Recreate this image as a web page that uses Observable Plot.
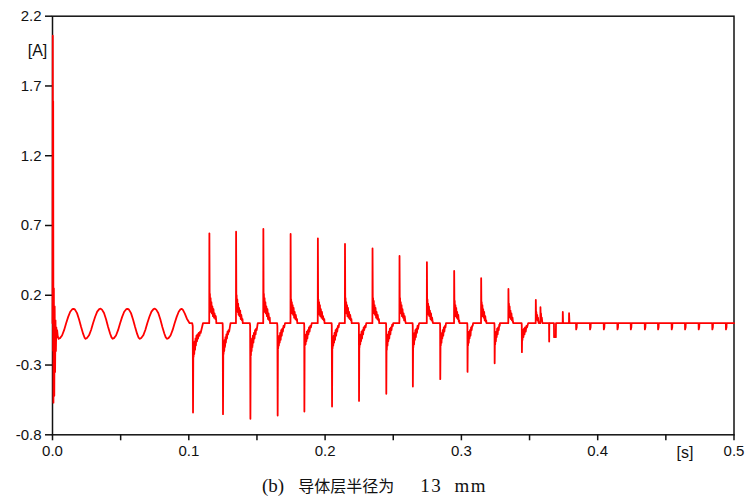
<!DOCTYPE html>
<html><head><meta charset="utf-8">
<script src="https://cdn.jsdelivr.net/npm/d3@7"></script>
<script src="https://cdn.jsdelivr.net/npm/@observablehq/plot@0.6"></script>
<style>
body{margin:0;background:#fff;}
#chart svg{display:block}
#cap{height:31px;line-height:31px;width:746px;box-sizing:border-box;padding-left:262px;white-space:pre;color:#111;}
#cap .lat{font-family:"Liberation Serif",serif;font-size:19px;}
#cap .cjk{font-family:"Noto Sans CJK SC",sans-serif;font-size:16px;margin-left:14px;margin-right:26px;}
#cap .val{word-spacing:6px;letter-spacing:1.5px;}
</style></head><body>
<div id="chart"></div>
<div id="cap"><span class="lat" id="capA"></span><span class="cjk" id="capB"></span><span class="lat val" id="capC"></span></div>
<script>
// ---- axis ticks / labels ----
const yTicks = [-0.8, -0.3, 0.2, 0.7, 1.2, 1.7, 2.2];
const xTicks = [0, 0.1, 0.2, 0.3, 0.4, 0.5];
const xMinorTicks = [0.05, 0.15, 0.25, 0.35, 0.45];
const yUnit = "[A]";
const xUnit = "[s]";
const captionParts = ["(b)", "导体层半径为", "13 mm"];

// ---- current trace [time s, current A] ----
const transient = [[0,0],[0.0002,2.06],[0.0004,-0.2],[0.0005,1.59],[0.0007,-0.57],[0.0010,0.25],[0.0013,-0.52],[0.0016,0.12],[0.0019,-0.35],[0.0022,0.02],[0.0025,-0.2],[0.0028,-0.03],[0.0031,-0.1],[0.0034,-0.05],[0.0038,-0.09],[0.0042,-0.105]];

const preFault = [
[0.0045,-0.112],[0.0055,-0.107],[0.007,-0.088],[0.0085,-0.05],[0.010,0.0],[0.0115,0.045],[0.013,0.082],[0.0145,0.100],[0.0155,0.103],[0.0165,0.097],[0.018,0.072],[0.0195,0.027],[0.021,-0.028],[0.0225,-0.077],[0.0235,-0.103],[0.0243,-0.112],
[0.0253,-0.106],[0.0268,-0.087],[0.0283,-0.049],[0.0298,0.001],[0.0313,0.046],[0.0328,0.083],[0.0343,0.101],[0.0353,0.104],[0.0363,0.097],[0.0378,0.073],[0.0393,0.028],[0.0408,-0.027],[0.0423,-0.076],[0.0433,-0.102],[0.0441,-0.112],
[0.0451,-0.107],[0.0466,-0.088],[0.0481,-0.05],[0.0496,0.0],[0.0511,0.045],[0.0526,0.082],[0.0541,0.100],[0.0551,0.103],[0.0561,0.097],[0.0576,0.072],[0.0591,0.027],[0.0606,-0.028],[0.0621,-0.077],[0.0631,-0.103],[0.0641,-0.112],
[0.0651,-0.106],[0.0666,-0.087],[0.0681,-0.049],[0.0696,0.001],[0.0711,0.046],[0.0726,0.083],[0.0741,0.101],[0.0751,0.104],[0.0761,0.097],[0.0776,0.073],[0.0791,0.028],[0.0806,-0.027],[0.0821,-0.076],[0.0831,-0.102],[0.0841,-0.112],
[0.0851,-0.107],[0.0866,-0.088],[0.0881,-0.05],[0.0896,0.0],[0.0911,0.045],[0.0926,0.082],[0.0939,0.100],[0.0947,0.103],[0.0956,0.097],[0.0971,0.068],[0.0986,0.032],[0.1006,0],[0.1025,0]
];

const cycle01 = [[0.1029,-0.02],[0.1031,-0.640],[0.1033,-0.21],[0.1035,-0.24],[0.1037,-0.15],[0.1040,-0.22],[0.1043,-0.13],[0.1046,-0.19],[0.1049,-0.11],[0.1052,-0.16],[0.1056,-0.09],[0.1060,-0.13],[0.1064,-0.08],[0.1068,-0.11],[0.1073,-0.07],[0.1078,-0.09],[0.1083,-0.06],[0.1087,-0.07],[0.1104,0],[0.1150,0],
[0.1151,0.644],[0.1153,0.12],[0.1155,0.21],[0.1157,0.10],[0.1160,0.18],[0.1163,0.08],[0.1166,0.15],[0.1169,0.07],[0.1173,0.12],[0.1177,0.05],[0.1181,0.10],[0.1185,0.04],[0.1189,0.07],[0.1194,0.03],[0.1198,0.05],[0.1201,0.02],[0.1202,0],[0.1248,0],[0.1249,-0.02]];

const cycle02 = [[0.1251,-0.652],[0.1253,-0.19],[0.1255,-0.22],[0.1257,-0.14],[0.1260,-0.20],[0.1263,-0.12],[0.1266,-0.17],[0.1269,-0.10],[0.1272,-0.14],[0.1276,-0.08],[0.1280,-0.11],[0.1284,-0.06],[0.1288,-0.08],[0.1292,-0.05],[0.1296,-0.06],[0.1306,0],[0.1346,0],
[0.1347,0.656],[0.1349,0.11],[0.1351,0.20],[0.1353,0.09],[0.1356,0.17],[0.1359,0.08],[0.1362,0.14],[0.1365,0.06],[0.1369,0.11],[0.1373,0.05],[0.1377,0.09],[0.1381,0.03],[0.1385,0.06],[0.1390,0.02],[0.1394,0.03],[0.1396,0],[0.1448,0],[0.1450,-0.02]];

const cycle03 = [[0.1452,-0.685],[0.1454,-0.18],[0.1456,-0.23],[0.1458,-0.13],[0.1461,-0.20],[0.1464,-0.11],[0.1467,-0.17],[0.1470,-0.09],[0.1474,-0.14],[0.1478,-0.07],[0.1482,-0.11],[0.1486,-0.05],[0.1490,-0.08],[0.1494,-0.04],[0.1498,-0.05],[0.1506,0],[0.1546,0],
[0.1547,0.675],[0.1549,0.12],[0.1551,0.21],[0.1553,0.10],[0.1556,0.18],[0.1559,0.08],[0.1562,0.15],[0.1565,0.07],[0.1569,0.12],[0.1573,0.05],[0.1577,0.10],[0.1581,0.03],[0.1585,0.07],[0.1590,0.02],[0.1594,0.04],[0.1596,0],[0.1648,0],[0.1650,-0.02]];

const cycle04 = [[0.1652,-0.662],[0.1654,-0.13],[0.1656,-0.18],[0.1658,-0.10],[0.1661,-0.16],[0.1664,-0.09],[0.1667,-0.14],[0.1670,-0.07],[0.1674,-0.12],[0.1678,-0.05],[0.1682,-0.09],[0.1686,-0.04],[0.1690,-0.06],[0.1695,-0.02],[0.1700,-0.03],[0.1706,0],[0.1746,0],
[0.1747,0.639],[0.1749,0.10],[0.1751,0.17],[0.1753,0.08],[0.1756,0.15],[0.1759,0.07],[0.1762,0.13],[0.1765,0.06],[0.1769,0.11],[0.1773,0.04],[0.1777,0.08],[0.1781,0.03],[0.1785,0.06],[0.1790,0.02],[0.1794,0.03],[0.1796,0],[0.1846,0],[0.1847,-0.02]];

const cycle05 = [[0.1848,-0.633],[0.1850,-0.12],[0.1852,-0.16],[0.1854,-0.09],[0.1857,-0.15],[0.1860,-0.08],[0.1863,-0.13],[0.1866,-0.06],[0.1870,-0.11],[0.1874,-0.05],[0.1878,-0.08],[0.1882,-0.03],[0.1886,-0.06],[0.1891,-0.02],[0.1896,-0.03],[0.1902,0],[0.1946,0],
[0.1947,0.608],[0.1949,0.10],[0.1951,0.17],[0.1953,0.08],[0.1956,0.15],[0.1959,0.06],[0.1962,0.13],[0.1965,0.05],[0.1969,0.10],[0.1973,0.04],[0.1977,0.08],[0.1981,0.03],[0.1985,0.05],[0.1990,0.02],[0.1994,0.03],[0.1996,0],[0.2048,0],[0.2049,-0.02]];

const cycle06 = [[0.2051,-0.597],[0.2053,-0.13],[0.2055,-0.18],[0.2057,-0.10],[0.2060,-0.16],[0.2063,-0.09],[0.2066,-0.14],[0.2069,-0.07],[0.2073,-0.12],[0.2077,-0.05],[0.2081,-0.09],[0.2085,-0.04],[0.2089,-0.06],[0.2094,-0.02],[0.2099,-0.03],[0.2104,0],[0.2145,0],
[0.2146,0.568],[0.2148,0.11],[0.2150,0.18],[0.2152,0.08],[0.2155,0.15],[0.2158,0.07],[0.2161,0.13],[0.2164,0.05],[0.2168,0.11],[0.2172,0.04],[0.2176,0.08],[0.2180,0.03],[0.2184,0.06],[0.2189,0.02],[0.2193,0.03],[0.2195,0],[0.2247,0],[0.2248,-0.02]];

const cycle07 = [[0.2249,-0.557],[0.2251,-0.12],[0.2253,-0.17],[0.2255,-0.09],[0.2258,-0.15],[0.2261,-0.08],[0.2264,-0.13],[0.2267,-0.06],[0.2271,-0.11],[0.2275,-0.05],[0.2279,-0.08],[0.2283,-0.03],[0.2287,-0.05],[0.2292,-0.02],[0.2297,-0.03],[0.2302,0],[0.2347,0],
[0.2348,0.536],[0.2350,0.12],[0.2352,0.18],[0.2354,0.09],[0.2357,0.16],[0.2360,0.07],[0.2363,0.13],[0.2366,0.06],[0.2370,0.11],[0.2374,0.04],[0.2378,0.08],[0.2382,0.03],[0.2386,0.06],[0.2391,0.02],[0.2395,0.03],[0.2397,0],[0.2447,0],[0.2448,-0.02]];

const cycle08 = [[0.2449,-0.506],[0.2451,-0.13],[0.2453,-0.19],[0.2455,-0.10],[0.2458,-0.16],[0.2461,-0.08],[0.2464,-0.13],[0.2467,-0.06],[0.2471,-0.11],[0.2475,-0.04],[0.2479,-0.08],[0.2483,-0.03],[0.2487,-0.05],[0.2492,-0.01],[0.2497,-0.02],[0.2500,0],[0.2545,0],
[0.2546,0.482],[0.2548,0.11],[0.2550,0.18],[0.2552,0.08],[0.2555,0.15],[0.2558,0.07],[0.2561,0.13],[0.2564,0.05],[0.2568,0.10],[0.2572,0.04],[0.2576,0.07],[0.2580,0.02],[0.2584,0.05],[0.2589,0.01],[0.2592,0],[0.2642,0],[0.2643,-0.02]];

const cycle09 = [[0.2644,-0.454],[0.2646,-0.12],[0.2648,-0.17],[0.2650,-0.09],[0.2653,-0.15],[0.2656,-0.07],[0.2659,-0.12],[0.2662,-0.05],[0.2666,-0.10],[0.2670,-0.04],[0.2674,-0.07],[0.2678,-0.02],[0.2682,-0.04],[0.2687,-0.01],[0.2691,0],[0.2746,0],
[0.2747,0.437],[0.2749,0.10],[0.2751,0.17],[0.2753,0.07],[0.2756,0.14],[0.2759,0.06],[0.2762,0.12],[0.2765,0.05],[0.2769,0.09],[0.2773,0.03],[0.2777,0.07],[0.2781,0.02],[0.2785,0.04],[0.2789,0.01],[0.2791,0],[0.2843,0],[0.2844,-0.02]];

const cycle10 = [[0.2845,-0.401],[0.2847,-0.11],[0.2849,-0.16],[0.2851,-0.08],[0.2854,-0.14],[0.2857,-0.07],[0.2860,-0.11],[0.2863,-0.05],[0.2867,-0.09],[0.2871,-0.03],[0.2875,-0.06],[0.2879,-0.02],[0.2883,-0.03],[0.2887,0],[0.2946,0],
[0.2947,0.374],[0.2949,0.09],[0.2951,0.16],[0.2953,0.07],[0.2956,0.13],[0.2959,0.05],[0.2962,0.11],[0.2965,0.04],[0.2969,0.08],[0.2973,0.03],[0.2977,0.06],[0.2981,0.01],[0.2984,0.02],[0.2986,0],[0.3043,0],[0.3044,-0.02]];

const cycle11 = [[0.3045,-0.349],[0.3047,-0.10],[0.3049,-0.16],[0.3051,-0.08],[0.3054,-0.14],[0.3057,-0.06],[0.3060,-0.11],[0.3063,-0.05],[0.3067,-0.09],[0.3071,-0.03],[0.3075,-0.05],[0.3079,-0.02],[0.3083,-0.02],[0.3086,0],[0.3144,0],
[0.3145,0.322],[0.3147,0.08],[0.3149,0.15],[0.3151,0.06],[0.3154,0.13],[0.3157,0.05],[0.3160,0.10],[0.3163,0.04],[0.3167,0.08],[0.3171,0.02],[0.3175,0.05],[0.3179,0.01],[0.3182,0.02],[0.3184,0],[0.3242,0],[0.3243,-0.02]];

const cycle12 = [[0.3244,-0.288],[0.3246,-0.09],[0.3248,-0.15],[0.3250,-0.07],[0.3253,-0.13],[0.3256,-0.06],[0.3259,-0.10],[0.3262,-0.04],[0.3266,-0.08],[0.3270,-0.03],[0.3274,-0.05],[0.3278,-0.01],[0.3281,-0.02],[0.3283,0],[0.3344,0],
[0.3345,0.245],[0.3347,0.07],[0.3349,0.14],[0.3351,0.05],[0.3354,0.12],[0.3357,0.04],[0.3360,0.09],[0.3363,0.03],[0.3367,0.07],[0.3371,0.02],[0.3375,0.04],[0.3378,0.01],[0.3380,0],[0.3442,0],[0.3443,-0.02]];

const cycle13 = [[0.3444,-0.208],[0.3446,-0.07],[0.3448,-0.12],[0.3451,-0.05],[0.3455,-0.10],[0.3459,-0.04],[0.3463,-0.08],[0.3467,-0.03],[0.3472,-0.06],[0.3477,-0.02],[0.3482,-0.03],[0.3487,-0.01],[0.3490,0],[0.3545,0],
[0.3546,0.167],[0.3548,0.04],[0.3550,0.08],[0.3553,0.03],[0.3556,0.06],[0.3559,0.02],[0.3562,0.04],[0.3565,0.01],[0.3567,0],[0.3579,0],[0.3580,0.114],[0.3582,0.04],[0.3584,0.07],[0.3587,0.02],[0.3590,0.04],[0.3593,0.01],[0.3596,0],[0.3643,0]];

const lateSpikes = [[0.3644,-0.132],[0.3645,0],[0.3679,0],[0.3680,-0.10],[0.3693,-0.10],[0.3694,0],[0.3743,0],[0.3744,0.08],[0.3746,0],[0.3789,0],[0.3790,0.071],[0.3793,0],[0.3841,0]];

const tailTicks = [
[0.3842,-0.045],[0.3846,-0.03],[0.3847,0],[0.3943,0],
[0.3944,-0.045],[0.3948,-0.03],[0.3949,0],[0.4044,0],
[0.4045,-0.045],[0.4049,-0.03],[0.4050,0],[0.4144,0],
[0.4145,-0.045],[0.4149,-0.03],[0.4150,0],[0.4242,0],
[0.4243,-0.045],[0.4247,-0.03],[0.4248,0],[0.4345,0],
[0.4346,-0.045],[0.4350,-0.03],[0.4351,0],[0.4442,0],
[0.4443,-0.045],[0.4447,-0.03],[0.4448,0],[0.4542,0],
[0.4543,-0.045],[0.4547,-0.03],[0.4548,0],[0.4640,0],
[0.4641,-0.045],[0.4645,-0.03],[0.4646,0],[0.4740,0],
[0.4741,-0.045],[0.4745,-0.03],[0.4746,0],[0.4840,0],
[0.4841,-0.045],[0.4845,-0.03],[0.4846,0],[0.4940,0],
[0.4941,-0.045],[0.4945,-0.03],[0.4946,0],[0.5,0]
];

const series = [].concat(transient, preFault, cycle01, cycle02, cycle03, cycle04, cycle05, cycle06, cycle07,
  cycle08, cycle09, cycle10, cycle11, cycle12, cycle13, lateSpikes, tailTicks).map(([t, i]) => ({t, i}));

const fmt = d => d.toFixed(1);
const plot = Plot.plot({
  width: 746, height: 470,
  marginLeft: 52, marginRight: 12.5, marginTop: 15.7, marginBottom: 35.7,
  style: {fontFamily: "'Liberation Sans', Arial, sans-serif", fontSize: "15px", color: "#111", background: "#fff", overflow: "visible"},
  x: {domain: [0, 0.5]},
  y: {domain: [-0.8, 2.2]},
  marks: [
    Plot.frame({stroke: "#111", strokeWidth: 1.5}),
    Plot.axisY({ticks: yTicks, tickFormat: fmt, tickSize: 7, tickPadding: 4, label: null, strokeWidth: 1.5}),
    Plot.axisX({ticks: xMinorTicks, tickFormat: () => "", tickSize: 6, label: null, strokeWidth: 1.5}),
    Plot.axisX({ticks: xTicks, tickFormat: fmt, tickSize: 6, tickPadding: 5, label: null, strokeWidth: 1.5}),
    Plot.line(series, {x: "t", y: "i", stroke: "#ff0000", strokeWidth: 1.8}),
    Plot.text([yUnit], {text: d => d, frameAnchor: "top-left", textAnchor: "middle", lineAnchor: "middle", dx: -15, dy: 35, fontSize: 16, fill: "#111"}),
    Plot.text([xUnit], {text: d => d, frameAnchor: "bottom-right", textAnchor: "middle", lineAnchor: "middle", dx: -49, dy: 18, fontSize: 16, fill: "#111"})
  ]
});
document.getElementById("chart").appendChild(plot);
document.getElementById("capA").textContent = captionParts[0];
document.getElementById("capB").textContent = captionParts[1];
document.getElementById("capC").textContent = captionParts[2];
</script>
</body></html>
